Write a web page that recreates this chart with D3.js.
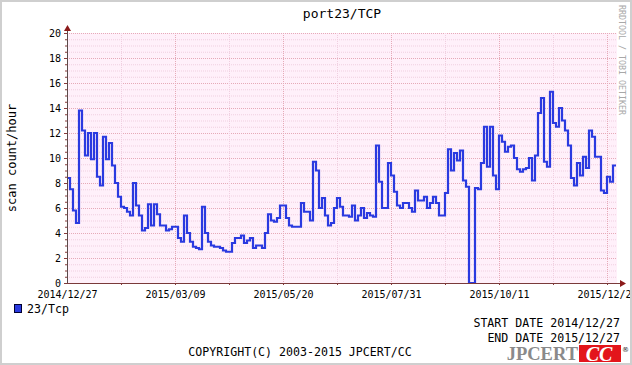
<!DOCTYPE html>
<html>
<head>
<meta charset="utf-8">
<script src="https://cdn.jsdelivr.net/npm/d3@7"></script>
<style>
  body { margin: 0; background: #fff; }
  text { font-family: "DejaVu Sans Mono", monospace; }
</style>
</head>
<body>
<div id="chart"></div>
<script>
// data: one value every 2 days, starting 2014/12/27
var startDay = "2014/12/27";
var stepDays = 2;
var scanCount = [
  8.4, 7.5, 5.8, 4.8, 13.8, 12.2, 10.2, 12.0, 9.9, 12.0,
  8.5, 7.8, 11.7, 9.9, 11.2, 9.4, 8.0, 6.9, 6.1, 6.0,
  5.7, 5.4, 8.0, 6.2, 5.4, 4.2, 4.4, 6.3, 4.6, 6.3,
  5.5, 4.6, 4.6, 4.2, 4.3, 4.5, 4.5, 3.6, 3.3, 5.4,
  4.0, 3.3, 2.9, 2.8, 2.7, 6.1, 4.0, 3.3, 3.0, 2.9,
  2.9, 2.8, 2.6, 2.5, 2.5, 3.2, 3.6, 3.6, 3.8, 3.2,
  3.4, 3.6, 2.8, 3.0, 3.0, 2.8, 4.0, 5.5, 5.0, 4.9,
  5.2, 6.2, 6.2, 5.2, 4.6, 4.5, 4.5, 4.5, 6.4, 5.7,
  5.7, 5.0, 9.7, 9.0, 6.0, 6.8, 5.4, 4.6, 4.8, 6.0,
  6.8, 6.1, 5.4, 5.4, 5.3, 6.2, 5.0, 5.4, 6.0, 5.2,
  5.6, 5.4, 5.3, 11.0, 8.1, 6.0, 6.0, 9.6, 8.6, 7.3,
  6.2, 6.0, 6.4, 6.4, 6.0, 5.7, 7.4, 6.6, 6.6, 6.9,
  6.0, 6.4, 6.9, 6.4, 5.4, 5.4, 7.2, 10.7, 9.0, 10.4,
  9.8, 10.6, 8.2, 7.7, 0, 0, 7.6, 7.5, 9.6, 12.5,
  9.3, 12.5, 8.6, 7.5, 11.8, 11.3, 10.5, 10.9, 11.0, 10.0,
  9.1, 8.9, 9.1, 9.2, 10.0, 8.2, 10.2, 13.6, 14.8, 9.7,
  9.3, 15.3, 12.8, 12.5, 14.0, 13.0, 12.2, 11.0, 8.4, 7.8,
  9.6, 8.6, 10.1, 9.2, 12.2, 11.7, 10.1, 10.1, 7.4, 7.2,
  8.5, 8.1, 9.4
];
var xTickLabels = ["2014/12/27", "2015/03/09", "2015/05/20", "2015/07/31", "2015/10/11", "2015/12/22"];
var yTicks = [0, 2, 4, 6, 8, 10, 12, 14, 16, 18, 20];
var seriesName = "23/Tcp";
var chartTitle = "port23/TCP";
var yLabel = "scan count/hour";
var startText = "START DATE 2014/12/27";
var endText = "END DATE 2015/12/27";
var copyText = "COPYRIGHT(C) 2003-2015 JPCERT/CC";

function init() {
  var W = 632, H = 365;
  var margin = { top: 33, left: 67 },
    width = 550,
    height = 250;

  var parse = d3.utcParse("%Y/%m/%d");
  var fmt = d3.utcFormat("%Y/%m/%d");
  var start = parse(startDay);

  var data = scanCount.map(function (v, i) {
    return { date: d3.utcDay.offset(start, i * stepDays), value: v };
  });
  // closing point so the last step has its width
  var last = data[data.length - 1];
  var dataStep = data.concat([{ date: d3.utcDay.offset(last.date, stepDays), value: last.value }]);

  var svg = d3.select("#chart").append("svg")
    .attr("width", W).attr("height", H);

  svg.append("rect").attr("width", W).attr("height", H).attr("fill", "#fff");

  var g = svg.append("g")
    .attr("transform", "translate(" + margin.left + "," + margin.top + ")");

  // 1.5 px per day
  var x = d3.scaleUtc()
    .domain([start, new Date(start.getTime() + (width / 1.5) * 864e5)])
    .range([0, width]);
  var y = d3.scaleLinear().domain([0, 20]).range([height, 0]);

  // plot background
  g.append("rect").attr("width", width).attr("height", height).attr("fill", "#fff0fa");

  // horizontal grid, every 0.5
  var hLines = d3.range(0, 20.01, 0.5);
  g.append("g").selectAll("line").data(hLines).enter().append("line")
    .attr("x1", 0).attr("x2", width)
    .attr("y1", function (d) { return y(d) + 0.5; })
    .attr("y2", function (d) { return y(d) + 0.5; })
    .attr("stroke", function (d) { return d % 2 === 0 ? "#e6aab8" : "#f0cfe0"; })
    .attr("stroke-width", 1)
    .attr("stroke-dasharray", "1,1");

  // vertical grid, every 36 days (labels every 72)
  var vDates = d3.utcDay.range(d3.utcDay.offset(start, 36), x.domain()[1], 1)
    .filter(function (d) { return Math.round((d - start) / 864e5) % 36 === 0; });
  g.append("g").selectAll("line").data(vDates).enter().append("line")
    .attr("x1", function (d) { return Math.round(x(d)) + 0.5; })
    .attr("x2", function (d) { return Math.round(x(d)) + 0.5; })
    .attr("y1", 0).attr("y2", height)
    .attr("stroke", function (d) {
      return Math.round((d - start) / 864e5) % 72 === 0 ? "#e6aab8" : "#f0cfe0";
    })
    .attr("stroke-dasharray", "1,1");

  // the series
  var line = d3.line()
    .x(function (d) { return x(d.date); })
    .y(function (d) { return y(d.value); })
    .curve(d3.curveStepAfter);
  g.append("path")
    .datum(dataStep)
    .attr("d", line)
    .attr("fill", "none")
    .attr("stroke", "#2a3ae0")
    .attr("stroke-width", 2.2)
    .attr("stroke-linejoin", "miter");

  // small ticks on axes
  g.append("g").selectAll("line").data(hLines).enter().append("line")
    .attr("x1", function (d) { return d % 2 === 0 ? -3 : -2; }).attr("x2", 0)
    .attr("y1", function (d) { return y(d) + 0.5; })
    .attr("y2", function (d) { return y(d) + 0.5; })
    .attr("stroke", "#8a3a3a");
  g.append("g").selectAll("line").data(vDates).enter().append("line")
    .attr("x1", function (d) { return Math.round(x(d)) + 0.5; })
    .attr("x2", function (d) { return Math.round(x(d)) + 0.5; })
    .attr("y1", height).attr("y2", height + 2)
    .attr("stroke", "#8a3a3a");

  // axis lines with arrows
  g.append("line").attr("x1", 0.5).attr("x2", 0.5).attr("y1", height + 1).attr("y2", -3)
    .attr("stroke", "#5a4a4a");
  g.append("line").attr("x1", -2).attr("x2", width + 4).attr("y1", height + 0.5).attr("y2", height + 0.5)
    .attr("stroke", "#7a3a3a");
  g.append("path").attr("d", "M-3,-2 L4,-2 L0.5,-8 Z").attr("fill", "#8b1a1a");
  g.append("path").attr("d", "M" + (width + 3) + "," + (height - 3) + " L" + (width + 3) + "," + (height + 4) + " L" + (width + 9) + "," + (height + 0.5) + " Z")
    .attr("fill", "#8b1a1a");

  // y tick labels
  var yAxis = g.append("g")
    .call(d3.axisLeft(y).tickValues(yTicks).tickSize(0).tickPadding(6));
  yAxis.select(".domain").remove();
  yAxis.selectAll("text")
    .style("font-family", "'DejaVu Sans Mono', monospace")
    .style("font-size", "10px").attr("fill", "#000");

  // x tick labels
  var xAxis = g.append("g")
    .attr("transform", "translate(0," + height + ")")
    .call(d3.axisBottom(x).tickValues(xTickLabels.map(parse)).tickFormat(fmt).tickSize(0).tickPadding(8));
  xAxis.select(".domain").remove();
  xAxis.selectAll("text")
    .style("font-family", "'DejaVu Sans Mono', monospace")
    .style("font-size", "10px").attr("fill", "#000");

  // title
  svg.append("text").attr("x", 342).attr("y", 18)
    .attr("text-anchor", "middle").style("font-size", "13px").text(chartTitle);

  // y label
  svg.append("text")
    .attr("transform", "translate(16," + (margin.top + height / 2) + ") rotate(-90)")
    .attr("text-anchor", "middle").style("font-size", "12px").text(yLabel);

  // rrdtool watermark
  svg.append("text")
    .attr("transform", "translate(619,5) rotate(90)")
    .style("font-size", "8.3px").attr("fill", "#a8a8a8").text("RRDTOOL / TOBI OETIKER");

  // legend
  svg.append("rect").attr("x", 14.5).attr("y", 304.5).attr("width", 7).attr("height", 8)
    .attr("fill", "#2a3ae0").attr("stroke", "#000030");
  svg.append("text").attr("x", 27).attr("y", 313).style("font-size", "11.6px").text(seriesName);

  svg.append("text").attr("x", 620).attr("y", 327).attr("text-anchor", "end")
    .style("font-size", "11.6px").text(startText);
  svg.append("text").attr("x", 620).attr("y", 341.5).attr("text-anchor", "end")
    .style("font-size", "11.6px").text(endText);
  svg.append("text").attr("x", 300).attr("y", 356).attr("text-anchor", "middle")
    .style("font-size", "11.6px").text(copyText);

  // JPCERT logo
  var logo = svg.append("g");
  logo.append("text").attr("x", 578).attr("y", 360).attr("text-anchor", "end")
    .style("font-family", "'Liberation Serif', serif").style("font-weight", "bold")
    .style("font-size", "18.5px").attr("fill", "#8a8a8a").text("JPCERT");
  logo.append("rect").attr("x", 579).attr("y", 345).attr("width", 42).attr("height", 17).attr("fill", "#e3151b");
  logo.append("text").attr("x", 599).attr("y", 360.5).attr("text-anchor", "middle")
    .style("font-family", "'Liberation Serif', serif").style("font-weight", "bold").style("font-style", "italic")
    .style("font-size", "20px").attr("fill", "#fff").text("CC");
  logo.append("text").attr("x", 622).attr("y", 352)
    .style("font-family", "'DejaVu Sans', sans-serif").style("font-size", "7px").attr("fill", "#222").text("\u00ae");

  // outer frame
  svg.append("rect").attr("x", 1).attr("y", 1).attr("width", W - 2).attr("height", H - 2)
    .attr("fill", "none").attr("stroke", "#cfcfcf").attr("stroke-width", 2);
}
window.onload = init;
</script>
</body>
</html>
